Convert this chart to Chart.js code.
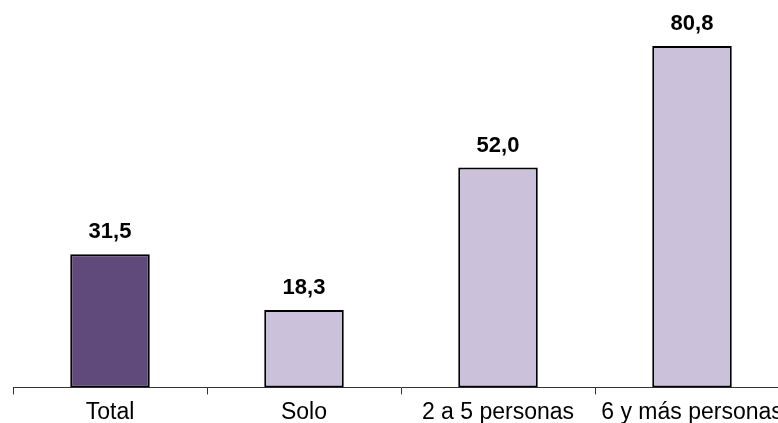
<!DOCTYPE html>
<html>
<head>
<meta charset="utf-8">
<script src="https://cdn.jsdelivr.net/npm/chart.js@4"></script>
<style>
    html, body { margin: 0; padding: 0; background: #fff; overflow: hidden; }
    #wrap { width: 778px; height: 423px; overflow: hidden; }
</style>
</head>
<body>
<div id="wrap"><canvas id="chart" width="792" height="430"></canvas></div>
<script>
const categories = ["Total", "Solo", "2 a 5 personas", "6 y más personas"];
const values = [31.5, 18.3, 52.0, 80.8];
const barColors = ["#604A7B", "#CCC1DA", "#CCC1DA", "#CCC1DA"];

// etiquetas encima de cada barra, con coma decimal
const valueLabels = {
    id: 'valueLabels',
    afterDatasetsDraw(chart) {
        let ctx = chart.ctx;
        let meta = chart.getDatasetMeta(0);
        ctx.save();
        ctx.font = "bold 22px 'Liberation Sans', Arial, sans-serif";
        ctx.fillStyle = "#000";
        ctx.textAlign = "center";
        ctx.textBaseline = "alphabetic";
        meta.data.forEach((bar, i) => {
            let txt = values[i].toFixed(1).replace(".", ",");
            ctx.fillText(txt, bar.x, bar.y - 16);
        });
        ctx.restore();
    }
};

new Chart(document.getElementById("chart"), {
    type: 'bar',
    data: {
        labels: categories,
        datasets: [{
            data: values,
            backgroundColor: barColors,
            borderColor: "#000",
            borderWidth: 2,
            borderSkipped: false,
            categoryPercentage: 1,
            barPercentage: 0.41
        }]
    },
    options: {
        responsive: false,
        animation: false,
        layout: { padding: { left: 13, right: 3, top: 7, bottom: 0 } },
        scales: {
            x: {
                grid: {
                    offset: true,
                    drawOnChartArea: false,
                    drawTicks: true,
                    tickLength: 7,
                    color: "#333",
                    lineWidth: 1
                },
                border: { display: true, color: "#333", width: 1 },
                ticks: {
                    color: "#000",
                    padding: 4,
                    maxRotation: 0,
                    autoSkip: false,
                    font: { family: "'Liberation Sans', Arial, sans-serif", size: 23 }
                }
            },
            y: {
                display: false,
                min: 0,
                max: 90
            }
        },
        plugins: {
            legend: { display: false },
            tooltip: { enabled: false }
        }
    },
    plugins: [valueLabels]
});
</script>
</body>
</html>
